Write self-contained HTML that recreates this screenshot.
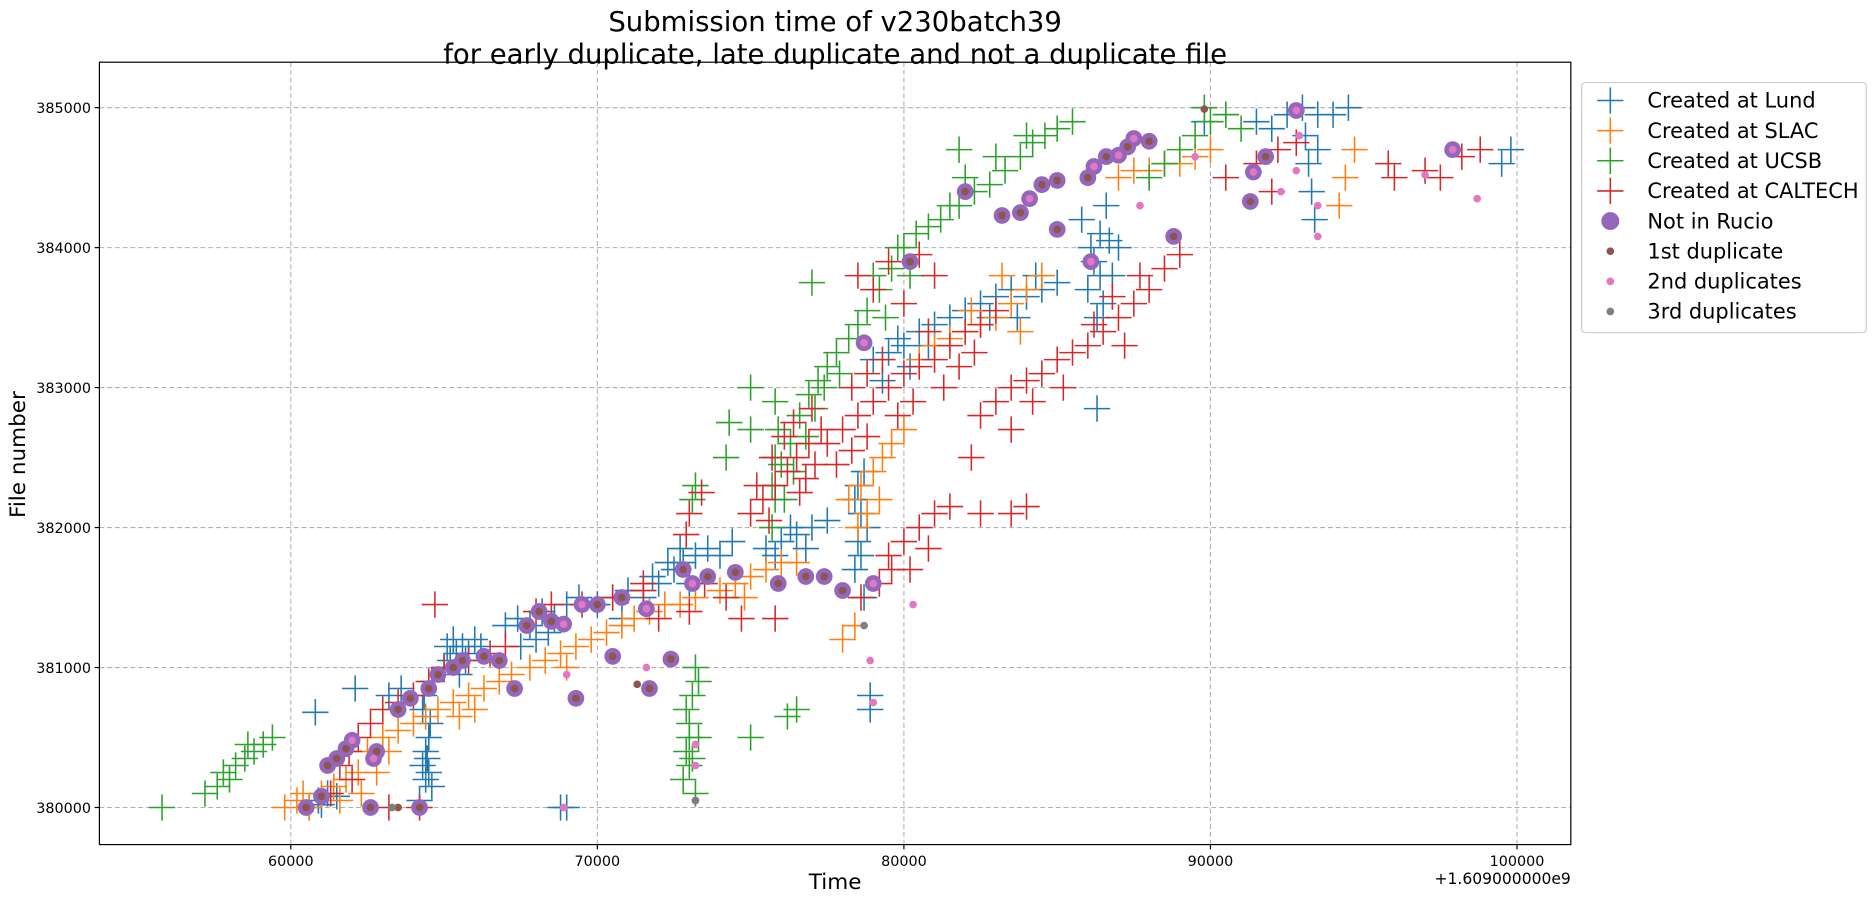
<!DOCTYPE html>
<html><head><meta charset="utf-8"><style>
html,body{margin:0;padding:0;background:#fff;}
svg{display:block;font-family:"DejaVu Sans","Liberation Sans",sans-serif;}
</style></head><body>
<svg id="chart" width="1876" height="902" viewBox="0 0 1568 754" xmlns="http://www.w3.org/2000/svg">
<rect x="0" y="0" width="1568" height="754" fill="#fff"/>
<text x="698" y="26" font-size="23" text-anchor="middle">Submission time of v230batch39</text>
<text x="698" y="53" font-size="23" text-anchor="middle">for early duplicate, late duplicate and not a duplicate file</text>
<g id="grid"></g>
<g id="marks"></g>
<rect x="83" y="52" width="1230" height="654" fill="none" stroke="#000" stroke-width="1"/>
<g id="ticks"></g>
<text x="698" y="743" font-size="18" text-anchor="middle">Time</text>
<text x="21" y="380" font-size="18" text-anchor="middle" transform="rotate(-90 21 380)">File number</text>
<text x="1313" y="739" font-size="13" text-anchor="end">+1.609000000e9</text>
<g>
<rect x="1322" y="69" width="238" height="209" rx="3" fill="#fff" stroke="#ccc"/>
<g id="legend-items"></g>
</g>
</svg>
<script>
const xTicks=[60000,70000,80000,90000,100000];
const yTicks=[380000,381000,382000,383000,384000,385000];
const lund=[[60600,380000],[60900,380050],[61200,380100],[61500,380080],[61000,380020],[60800,380680],[62100,380850],[64400,380200],[64500,380250],[64300,380300],[64600,380150],[64400,380400],[64500,380500],[64300,380700],[64600,380900],[64200,380050],[64450,380350],[64550,380600],[64350,380800],[65000,381000],[65200,381050],[65400,381100],[65600,381150],[65800,381100],[66000,381200],[65300,381200],[65500,380950],[66200,381150],[65100,381150],[65700,381050],[63200,380800],[63600,380850],[67000,381300],[67400,381350],[67800,381300],[68200,381400],[68600,381350],[69000,381450],[69400,381500],[68000,381200],[67500,381150],[68400,381250],[68800,380000],[69000,380000],[70000,381450],[70500,381500],[71000,381550],[71500,381500],[72000,381600],[72500,381700],[70800,381350],[71800,381650],[72300,381750],[72800,381750],[73200,381800],[73600,381850],[74000,381800],[74400,381900],[73000,381600],[72700,381850],[75500,381850],[76000,381900],[76500,381950],[77000,382000],[77500,382050],[76800,381850],[75800,381800],[76300,382000],[78400,381700],[78500,381900],[78600,382100],[78500,382300],[78700,381500],[78600,381800],[78800,382000],[78400,382200],[78700,382400],[78900,380800],[78900,380700],[79000,383200],[79500,383250],[80000,383300],[80500,383400],[81000,383450],[81500,383500],[80200,383150],[79300,383050],[79800,383350],[80800,383300],[82000,383550],[82500,383600],[83000,383650],[83500,383700],[84000,383650],[84500,383700],[85000,383750],[83700,383500],[82800,383500],[84300,383800],[86000,383700],[86200,383900],[86400,384100],[86600,384300],[86300,383500],[86800,383800],[86500,383600],[87000,384000],[85800,384200],[86100,384000],[86400,383800],[86700,384050],[86300,382850],[89800,384900],[90500,384950],[91500,384900],[92500,384950],[93000,385000],[93500,384950],[94000,384950],[94500,385000],[92000,384850],[93200,384600],[93300,384400],[93400,384200],[93500,384700],[93100,384800],[99500,384600],[99800,384700]];
const slac=[[59800,380000],[60200,380050],[60600,380000],[61000,380100],[61400,380150],[61800,380200],[62200,380250],[60400,380100],[61600,380050],[62500,380400],[63000,380500],[63500,380550],[64000,380600],[64400,380650],[63200,380400],[62800,380250],[62300,380100],[64800,380700],[65300,380750],[65800,380800],[66300,380850],[66800,380900],[67200,380950],[65500,380650],[66000,380700],[67800,381000],[68300,381050],[68800,381100],[69300,381150],[69800,381200],[70300,381250],[70800,381300],[69000,381000],[71200,381350],[71700,381400],[72200,381450],[72700,381450],[73200,381500],[74000,381550],[74500,381600],[75000,381650],[75500,381700],[76000,381750],[76500,381750],[74800,381500],[78000,381200],[78400,381300],[78200,382200],[78600,382300],[79000,382400],[79300,382500],[79600,382600],[80000,382700],[78800,382100],[78500,382000],[79200,382200],[80500,383200],[81000,383300],[81500,383350],[82000,383400],[82500,383450],[83000,383500],[83500,383600],[84000,383700],[84500,383800],[83200,383800],[82200,383550],[83800,383400],[87000,384500],[87500,384550],[88000,384550],[88500,384600],[89000,384600],[89500,384650],[90000,384700],[94400,384500],[94700,384700],[94200,384300]];
const ucsb=[[55800,380000],[57200,380100],[57600,380150],[57800,380250],[58200,380300],[58500,380350],[58800,380400],[59100,380450],[59400,380500],[58000,380200],[58600,380450],[73100,382200],[73200,382300],[72800,380200],[72900,380400],[73000,380600],[73100,380800],[73200,381000],[73300,380500],[73000,380300],[72900,380700],[73300,380900],[73200,380100],[73000,380500],[73100,380350],[75000,380500],[76200,380650],[76500,380700],[75700,382300],[76000,382450],[76300,382600],[76600,382800],[76900,382950],[77200,383050],[77500,383150],[77800,383250],[78200,383350],[78500,383450],[75800,382200],[75800,382500],[75900,382700],[75700,382000],[76100,382200],[76400,382400],[76800,382650],[77100,382850],[77400,383000],[77900,383100],[74200,382500],[74300,382750],[78800,383550],[79200,383700],[79600,383850],[80000,384000],[80400,384100],[80800,384150],[81200,384200],[79400,383500],[79000,383800],[79800,384000],[80200,383800],[81500,384300],[81800,384300],[82300,384400],[82800,384450],[83300,384550],[83800,384650],[84200,384750],[84600,384800],[85000,384850],[85500,384900],[82000,384500],[83000,384650],[84000,384800],[77000,383750],[81800,384700],[88000,384500],[88500,384600],[89000,384700],[89500,384800],[90000,384900],[90500,384950],[91000,384850],[89800,385000],[75000,382700],[75800,382900],[75000,383000]];
const caltech=[[61300,380100],[61600,380300],[61900,380400],[62200,380500],[62600,380600],[63000,380700],[63500,380750],[64000,380800],[62000,380200],[63200,380000],[64200,380000],[64500,380900],[65000,381000],[65800,381050],[66500,381100],[67000,381150],[64700,381450],[68000,381400],[68500,381450],[69500,381450],[70500,381500],[71500,381550],[72000,381350],[73500,381600],[74200,381500],[74700,381350],[73000,381400],[73000,382100],[73400,382250],[72900,381950],[75000,382100],[75400,382200],[75800,382300],[76200,382400],[76500,382500],[76900,382600],[77300,382700],[75600,382050],[76600,382250],[75200,382300],[75700,382500],[76100,382650],[76400,382750],[76800,382350],[77100,382450],[77000,382850],[77500,382600],[78000,382700],[78500,382800],[79000,382900],[79500,383000],[80000,383100],[80500,383150],[81000,383200],[81500,383300],[82000,383400],[82500,383450],[78800,382650],[77800,382450],[78300,382550],[78300,383000],[78800,383100],[79300,383200],[79800,382800],[80300,382900],[80800,383400],[81300,383000],[81800,383150],[82300,383250],[83000,383550],[79200,381600],[79500,381800],[80000,381900],[80500,382000],[81000,382100],[81500,382150],[79600,381700],[78600,381500],[80200,381700],[80800,381850],[82500,382800],[83000,382900],[83500,383000],[84000,383050],[84500,383100],[85000,383200],[85500,383250],[86000,383300],[82200,382500],[83500,382700],[84200,382900],[85200,383000],[86200,383450],[78500,383800],[79000,383700],[79500,383900],[80500,383950],[81000,383800],[80000,383600],[86500,383400],[87000,383500],[87500,383600],[88000,383700],[88500,383850],[89000,383950],[87200,383300],[86800,383650],[87700,383800],[83500,382100],[84000,382150],[82500,382100],[90500,384500],[91500,384600],[92200,384700],[92800,384750],[92000,384400],[96000,384500],[97000,384550],[97500,384500],[98200,384650],[98800,384700],[95800,384600],[71500,381600],[75800,381350]];
const notInRucio=[[60500,380000],[61000,380080],[61200,380300],[61500,380350],[61800,380420],[62000,380480],[62600,380000],[62700,380350],[62800,380400],[63500,380700],[63900,380780],[64200,380000],[64500,380850],[64800,380950],[65300,381000],[65600,381050],[66300,381080],[66800,381050],[67300,380850],[67700,381300],[68100,381400],[68500,381330],[68900,381310],[69300,380780],[69500,381450],[70000,381450],[70500,381080],[70800,381500],[71600,381420],[71700,380850],[72400,381060],[72800,381700],[73100,381600],[73600,381650],[74500,381680],[75900,381600],[76800,381650],[77400,381650],[78000,381550],[79000,381600],[82000,384400],[83200,384230],[83800,384250],[84100,384350],[84500,384450],[85000,384480],[85000,384130],[86000,384500],[86200,384580],[86600,384650],[87000,384660],[87300,384720],[87500,384780],[88000,384760],[88800,384080],[80200,383900],[78700,383320],[91300,384330],[91400,384540],[91800,384650],[92800,384980],[97900,384700],[86100,383900]];
const firstDup=[[60500,380000],[61000,380080],[61200,380300],[61500,380350],[61800,380420],[62600,380000],[62800,380400],[63500,380700],[63900,380780],[64200,380000],[64500,380850],[64800,380950],[65300,381000],[65600,381050],[66300,381080],[66800,381050],[67300,380850],[67700,381300],[68100,381400],[68500,381330],[69300,380780],[70000,381450],[70500,381080],[70800,381500],[71700,380850],[72400,381060],[72800,381700],[73600,381650],[74500,381680],[75900,381600],[76800,381650],[77400,381650],[78000,381550],[82000,384400],[83200,384230],[83800,384250],[84500,384450],[85000,384480],[85000,384130],[86000,384500],[86600,384650],[87300,384720],[88000,384760],[88800,384080],[80200,383900],[91300,384330],[91800,384650],[89800,384990],[71300,380880],[63500,380000]];
const secondDup=[[62000,380480],[62700,380350],[68900,381310],[69500,381450],[71600,381420],[73100,381600],[79000,381600],[84100,384350],[86200,384580],[87000,384660],[87500,384780],[78700,383320],[91400,384540],[92800,384980],[97900,384700],[86100,383900],[93500,384300],[93500,384080],[78900,381050],[79000,380750],[73200,380450],[73200,380300],[73200,380050],[68900,380000],[92800,384550],[92900,384800],[89500,384650],[92300,384400],[98700,384350],[97000,384520],[87700,384300],[71600,381000],[69000,380950],[80300,381450]];
const thirdDup=[[78700,381300],[63300,380000],[73200,380050]];
</script>
<script>
const NS="http://www.w3.org/2000/svg";
const X0=83,X1=1313,Y0=52,Y1=706;
function xs(t){return 243+(t-60000)*0.025625;}
function ys(f){return 675-(f-380000)*0.117;}
function mk(tag,attrs,parent){const e=document.createElementNS(NS,tag);for(const k in attrs)e.setAttribute(k,attrs[k]);parent.appendChild(e);return e;}
const grid=document.getElementById('grid'),ticks=document.getElementById('ticks'),marks=document.getElementById('marks');
xTicks.forEach(v=>{const x=xs(v);
 const g=mk('line',{x1:x,x2:x,y1:Y0,y2:Y1,stroke:'#b0b0b0','stroke-dasharray':'4,2.5','stroke-width':0.9},grid);
 
 
 const t=mk('line',{x1:x,x2:x,y1:Y1,y2:Y1+4,stroke:'#000'},ticks);
 
 
 const l=mk('text',{x:x,y:Y1+18,'font-size':12,'text-anchor':'middle'},ticks);l.textContent=v;
 
 
});
yTicks.forEach(v=>{const y=ys(v);
 const g=mk('line',{x1:X0,x2:X1,y1:y,y2:y,stroke:'#b0b0b0','stroke-dasharray':'4,2.5','stroke-width':0.9},grid);
 
 
 const t=mk('line',{x1:X0-4,x2:X0,y1:y,y2:y,stroke:'#000'},ticks);
 
 
 const l=mk('text',{x:X0-7,y:y+4.5,'font-size':12,'text-anchor':'end'},ticks);l.textContent=v;
 
 
});
function cross(cx,cy,color,parent,h){
 return mk('path',{d:`M${cx-h},${cy}H${cx+h}M${cx},${cy-h}V${cy+h}`,stroke:color,'stroke-width':1.3,fill:'none'},parent);
}
const series=[[lund,'#1f77b4','lund'],[slac,'#ff7f0e','slac'],[ucsb,'#2ca02c','ucsb'],[caltech,'#d62728','caltech']];
series.forEach(([d,c,n])=>{const g=mk('g',{},marks);
 
 
 d.forEach(p=>{const m=cross(xs(p[0]),ys(p[1]),c,g,11);
  
  });
});
function dots(d,color,r,n){const g=mk('g',{},marks);
 
 
 d.forEach(p=>{const c=mk('circle',{cx:xs(p[0]),cy:ys(p[1]),r:r,fill:color},g);
  
  });
}
dots(notInRucio,'#9467bd',7,'not-in-rucio');
dots(firstDup,'#8c564b',3.2,'first-duplicate');
dots(secondDup,'#e377c2',3.2,'second-duplicate');
dots(thirdDup,'#7f7f7f',3.2,'third-duplicate');
const legendLabels=['Created at Lund','Created at SLAC','Created at UCSB','Created at CALTECH','Not in Rucio','1st duplicate','2nd duplicates','3rd duplicates'];
const legendColors=['#1f77b4','#ff7f0e','#2ca02c','#d62728','#9467bd','#8c564b','#e377c2','#7f7f7f'];
const lg=document.getElementById('legend-items');
legendLabels.forEach((lab,i)=>{const y=84+i*25.2;const g=mk('g',{},lg);
 
 
 if(i<4)cross(1346,y,legendColors[i],g,11);
 else mk('circle',{cx:1346,cy:y,r:i==4?7.5:3.2,fill:legendColors[i]},g);
 const t=mk('text',{x:1377,y:y+6,'font-size':17.5},g);t.textContent=lab;
});
</script>
</body></html>
